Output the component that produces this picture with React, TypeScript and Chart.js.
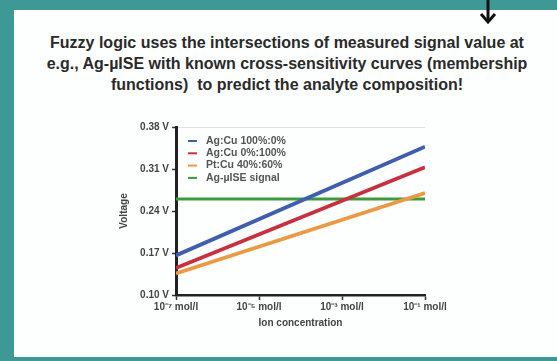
import React, { useEffect, useRef } from "react";
import { Chart, registerables } from "chart.js";

Chart.register(...registerables);

const titleLines = [
  "Fuzzy logic uses the intersections of measured signal value at",
  "e.g., Ag-µISE with known cross-sensitivity curves (membership",
  "functions)  to predict the analyte composition!",
];

const seriesLabels = ["Ag:Cu 100%:0%", "Ag:Cu 0%:100%", "Pt:Cu 40%:60%", "Ag-µISE signal"];
const seriesColors = ["#3f5fae", "#c8303f", "#e99a45", "#3f9a3f"];
// x values are log10 of concentration (mol/l)
const xPoints = [-7, -1];
const agCu100 = [0.166, 0.347];
const agCu0 = [0.145, 0.313];
const ptCu40 = [0.136, 0.27];
const signal = [0.26, 0.26];

const yTickValues = [0.1, 0.17, 0.24, 0.31, 0.38];
const xTickValues = [-7, -5, -3, -1];
const xTickLabels = ["10⁻⁷ mol/l", "10⁻⁵ mol/l", "10⁻³ mol/l", "10⁻¹ mol/l"];
const xTitle = "Ion concentration";
const yTitle = "Voltage";

const FONT = "'Liberation Sans', Arial, sans-serif";

const legendPlugin = {
  id: "insideLegend",
  afterDatasetsDraw(chart: any) {
    const { ctx, chartArea } = chart;
    ctx.save();
    ctx.font = `bold 10.5px ${FONT}`;
    ctx.textBaseline = "middle";
    chart.data.datasets.forEach((ds: any, i: number) => {
      const y = chartArea.top + 14 + i * 12.3;
      const x = chartArea.left + 12;
      ctx.strokeStyle = ds.borderColor;
      ctx.lineWidth = 2;
      ctx.beginPath();
      ctx.moveTo(x, y);
      ctx.lineTo(x + 9, y);
      ctx.stroke();
      ctx.fillStyle = "#555";
      ctx.fillText(ds.label, x + 18, y);
    });
    ctx.restore();
  },
};

export default function App() {
  const ref = useRef<HTMLCanvasElement>(null);
  useEffect(() => {
    document.body.style.margin = "0";
    const series = [agCu100, agCu0, ptCu40, signal];
    const chart = new Chart(ref.current!, {
      type: "line",
      data: {
        datasets: series.map((vals, i) => ({
          label: seriesLabels[i],
          data: xPoints.map((x, j) => ({ x, y: vals[j] })),
          borderColor: seriesColors[i],
          backgroundColor: seriesColors[i],
          borderWidth: i === 3 ? 3 : 3.8,
          pointRadius: 0,
          tension: 0,
        })),
      },
      options: {
        animation: false,
        responsive: false,
        layout: { padding: { top: 15, right: 35, left: 18, bottom: 0 } },
        plugins: { legend: { display: false }, tooltip: { enabled: false } },
        scales: {
          x: {
            type: "linear",
            min: -7,
            max: -1,
            afterBuildTicks: (s: any) => {
              s.ticks = xTickValues.map((v) => ({ value: v }));
            },
            afterFit: (s: any) => {
              s.height = 43;
            },
            ticks: {
              callback: (v: any) => xTickLabels[xTickValues.indexOf(v)],
              font: { family: FONT, size: 10, weight: "bold" },
              color: "#444",
              padding: 1,
              maxRotation: 0,
              autoSkip: false,
            },
            grid: { drawOnChartArea: false, tickLength: 5, tickColor: "#333", tickWidth: 1.5 },
            border: { display: true, color: "#222", width: 2.5 },
            title: {
              display: true,
              text: xTitle,
              font: { family: FONT, size: 10, weight: "bold" },
              color: "#444",
              padding: { top: 0, bottom: 9 },
            },
          },
          y: {
            type: "linear",
            min: 0.1,
            max: 0.38,
            afterBuildTicks: (s: any) => {
              s.ticks = yTickValues.map((v) => ({ value: v }));
            },
            afterFit: (s: any) => {
              s.width = 58;
            },
            ticks: {
              callback: (v: any) => Number(v).toFixed(2) + " V",
              font: { family: FONT, size: 10, weight: "bold" },
              color: "#444",
              padding: 3,
            },
            grid: {
              drawOnChartArea: true,
              color: (c: any) => (c.tick && Math.abs(c.tick.value - 0.38) < 1e-6 ? "#e2e2e2" : "rgba(0,0,0,0)"),
              tickColor: "#333",
              tickLength: 4,
              tickWidth: 1.5,
            },
            border: { display: true, color: "#222", width: 3 },
            title: {
              display: true,
              text: yTitle,
              font: { family: FONT, size: 10, weight: "bold" },
              color: "#444",
              padding: { top: 0, bottom: 0 },
            },
          },
        },
      },
      plugins: [legendPlugin],
    });
    return () => chart.destroy();
  }, []);

  return (
    <div style={{ position: "fixed", left: 0, top: 0, width: 557, height: 361, background: "#3d9896", overflow: "hidden" }}>
      <div style={{ position: "absolute", left: 14, top: 10, width: 560, height: 347, background: "#fdfefe" }} />
      <svg style={{ position: "absolute", left: 478, top: 0 }} width={20} height={26}>
        <line x1={10} y1={0} x2={10} y2={22} stroke="#111" strokeWidth={3} />
        <polyline points="3,14 10,22 17,14" fill="none" stroke="#111" strokeWidth={3} />
      </svg>
      <div
        style={{
          position: "absolute",
          left: 14,
          width: 546,
          top: 32,
          textAlign: "center",
          fontFamily: FONT,
          fontWeight: "bold",
          fontSize: 16,
          lineHeight: "21px",
          color: "#2a2a2a",
          whiteSpace: "pre",
        }}
      >
        {titleLines.map((l, i) => (
          <div key={i}>{l}</div>
        ))}
      </div>
      <canvas ref={ref} width={360} height={226} style={{ position: "absolute", left: 100, top: 112 }} />
    </div>
  );
}
